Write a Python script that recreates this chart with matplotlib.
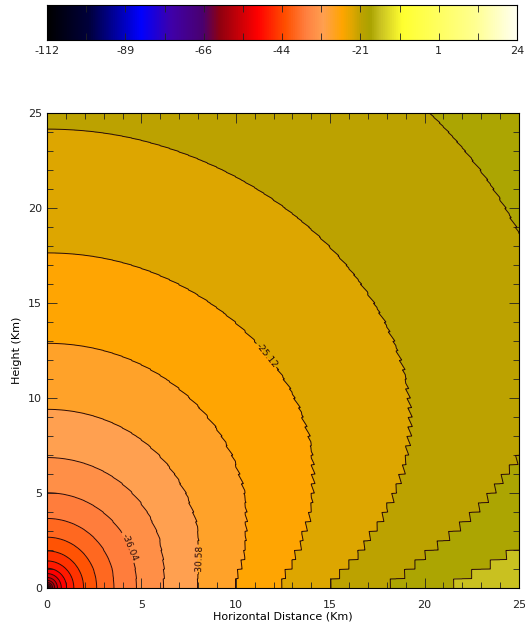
import numpy as np
import matplotlib
matplotlib.use('Agg')
import matplotlib.pyplot as plt
from matplotlib.colors import LinearSegmentedColormap, Normalize
from matplotlib.ticker import MultipleLocator

# colour scale of the bar on top
cbar_min, cbar_max = -112, 24
cbar_tick_labels = ['-112', '-89', '-66', '-44', '-21', '1', '24']
cmap_values = [-112, -100, -85, -76, -67, -62, -51, -43, -37, -32, -26.5,
               -23.75, -21, -18.3, -15.6, -9, 12, 24]
cmap_colors = ['#000000', '#00003c', '#0000ff', '#4000a8', '#4a0070', '#900010',
               '#ff0000', '#ff5000', '#ff8040', '#ffa050', '#ffa500',
               '#e1a700', '#bda200', '#aaa300', '#c8c020', '#ffff30', '#ffff90', '#fffff0']

# contour levels (every second one labelled)
level_step = 2.73
levels = np.round(-25.12 + level_step * np.arange(-31, 5), 2)
labelled_levels = [-36.04, -30.58, -25.12]
label_spots = [(4.9, 2.4), (8.1, 1.5), (11.9, 12.5)]

# field parameters, fitted to where the contours cross the axes
ref_level = -50.05      # value at 1 km
ground_slope = 0.36     # extra gain per km along the ground
ground_start = 3.82
decay_low, decay_high = 4.0, 15.0
cell = 0.5              # coarse grid of the original model (gives the steps)

x_max, y_max = 25, 25


def make_field(x, y):
    r = np.sqrt(x ** 2 + y ** 2)
    r = np.maximum(r, 1e-3)
    xq = (np.floor(x / cell) + 0.5) * cell
    yq = np.floor(y / cell) * cell
    g0 = ground_slope * 1.2 * np.log1p(np.exp((xq - ground_start) / 1.2))
    g = g0 * (0.8 * np.exp(-yq / decay_low) + 0.2 * np.exp(-yq / decay_high))
    return np.clip(ref_level + 20 * np.log10(r) + g, cbar_min, cbar_max)


cmap = LinearSegmentedColormap.from_list(
    'idl', list(zip((np.array(cmap_values) - cbar_min) / (cbar_max - cbar_min), cmap_colors)))
norm = Normalize(cbar_min, cbar_max)

xs = np.linspace(0, x_max, 1001)
ys = np.linspace(0, y_max, 1001)
X, Y = np.meshgrid(xs, ys)
Z = make_field(X, Y)

fig = plt.figure(figsize=(5.25, 6.26), dpi=100)
plt.rcParams['font.family'] = 'DejaVu Sans'

# colour bar
cax = fig.add_axes([47 / 525, 1 - 40 / 626, 470 / 525, 35 / 626])
grad = np.linspace(cbar_min, cbar_max, 512).reshape(1, -1)
cax.imshow(grad, aspect='auto', cmap=cmap, norm=norm,
           extent=[cbar_min, cbar_max, 0, 1])
cax.set_xlim(cbar_min, cbar_max)
cax.set_yticks([])
cax.set_xticks(np.linspace(cbar_min, cbar_max, 7))
cax.set_xticklabels(cbar_tick_labels, fontsize=8)
cax.set_xticks(np.linspace(cbar_min, cbar_max, 13), minor=True)
cax.tick_params(axis='x', which='both', direction='in', top=True, bottom=True,
                length=5, width=0.6, pad=4, colors='#222222')
for s in cax.spines.values():
    s.set_linewidth(0.8)

# main contour plot
ax = fig.add_axes([47 / 525, 38 / 626, 472 / 525, 475 / 626])
fill_levels = np.concatenate([[cbar_min - 1], levels, [cbar_max]])
ax.contourf(X, Y, Z, levels=fill_levels, cmap=cmap, norm=norm)
plain_levels = [lv for lv in levels if lv not in labelled_levels]
ax.contour(X, Y, Z, levels=plain_levels, colors='#2a0a0a', linewidths=0.7,
           linestyles='solid')
cs = ax.contour(X, Y, Z, levels=labelled_levels, colors='#2a0a0a', linewidths=0.7,
                linestyles='solid')
ax.clabel(cs, fmt='%.2f', fontsize=6.5, colors='#2a0a0a', inline=True,
          inline_spacing=2, manual=label_spots)

ax.set_xlim(0, x_max)
ax.set_ylim(0, y_max)
ax.xaxis.set_major_locator(MultipleLocator(5))
ax.yaxis.set_major_locator(MultipleLocator(5))
ax.xaxis.set_minor_locator(MultipleLocator(1))
ax.yaxis.set_minor_locator(MultipleLocator(1))
ax.tick_params(which='both', direction='in', top=True, right=True, width=0.6,
               labelsize=8, colors='#222222')
ax.tick_params(which='major', length=7)
ax.tick_params(which='minor', length=4)
ax.tick_params(axis='x', pad=9)
ax.set_xlabel('Horizontal Distance (Km)', fontsize=8, labelpad=1)
ax.set_ylabel('Height (Km)', fontsize=8, labelpad=4)
for s in ax.spines.values():
    s.set_linewidth(0.8)

fig.savefig('out.png', dpi=100)
